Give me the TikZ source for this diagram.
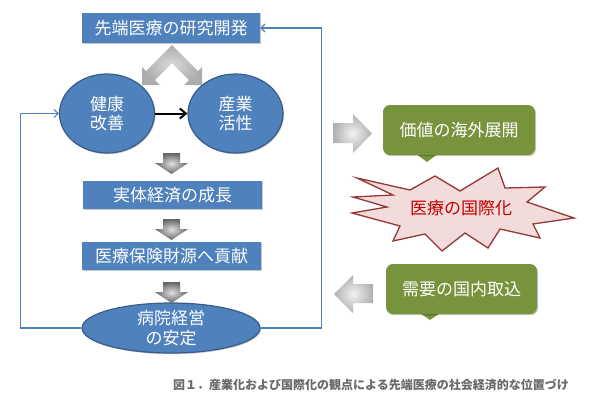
\documentclass[tikz,border=0pt]{standalone}
\usepackage{fontspec}
\setmainfont{Noto Sans CJK JP}
\usetikzlibrary{shapes.geometric,arrows.meta,shadows}
\definecolor{boxblue}{HTML}{4F81BD}
\definecolor{edgeblue}{HTML}{385D8A}
\definecolor{olivegreen}{HTML}{77933C}
\definecolor{starfill}{HTML}{F2DCDB}
\definecolor{staredge}{HTML}{953735}
\definecolor{startext}{HTML}{C00000}
\definecolor{captiongray}{HTML}{6A6A6A}
\tikzset{
  softshadow/.style={drop shadow={shadow xshift=1pt,shadow yshift=-1.2pt,fill=black,opacity=0.22}},
  bluebox/.style={rectangle, fill=boxblue, text=white, inner sep=0pt,
    font=\fontsize{17}{20}\selectfont, softshadow},
  blueell/.style={ellipse, fill=boxblue, draw=edgeblue, line width=1.2pt, text=white,
    inner sep=0pt, align=center, font=\fontsize{17}{19}\selectfont, softshadow},
  greencall/.style={rectangle, rounded corners=7pt, fill=olivegreen, text=white, inner sep=0pt,
    font=\fontsize{17}{20}\selectfont, softshadow},
  loopline/.style={draw=boxblue, line width=1.1pt, -{Straight Barb[length=4pt,width=8pt]}},
  grayarrow/.style={inner color=gray!25, outer color=gray!78!black},
  sidearrow/.style={inner color=gray!10, outer color=gray!62},
}
\begin{document}
\begin{tikzpicture}[x=1pt,y=-1pt]
\useasboundingbox (0,0) rectangle (589,400);
\fill[white] (0,0) rectangle (589,400);

% chevron block arrow
\shade[inner color=gray!30, outer color=gray!65]
  (142,67) -- (146,71) -- (172,45) -- (198,71) -- (202,67) -- (202,85) -- (184,85)
  -- (189,80) -- (172,63) -- (155,80) -- (160,85) -- (142,85) -- cycle;

% nodes (left column)
\node[bluebox, minimum width=178pt, minimum height=30pt] (research) at (171,28) {先端医療の研究開発};
\node[blueell, minimum width=95pt, minimum height=79pt] (health) at (107,113.5) {健康\\改善};
\node[blueell, minimum width=95pt, minimum height=79pt] (industry) at (235.5,113.5) {産業\\活性};
\node[bluebox, minimum width=179pt, minimum height=28pt] (economy) at (172.5,195) {実体経済の成長};
\node[bluebox, minimum width=179pt, minimum height=28pt] (insurance) at (171.5,256) {医療保険財源へ貢献};
\node[blueell, minimum width=178pt, minimum height=50pt,
  label={[text=white, align=center, font=\fontsize{17}{20}\selectfont]center:病院経営\\の安定}] (hospital) at (171,328) {};

% down block arrows
\foreach \t in {153,219,282}{
  \shade[grayarrow] (163,\t) -- (180,\t) -- (180,\t+10) -- (188,\t+10) -- (171.5,\t+21)
    -- (155,\t+10) -- (163,\t+10) -- cycle;
}

% connectors
\draw[line width=2pt, -{Straight Barb[length=6pt,width=10pt]}] (health) -- (industry);
\draw[loopline] (hospital.west) -- ++(-61,0) |- (health.west);
\draw[loopline] (hospital.east) -- ++(61,0) |- (research.east);

% right side
\shade[sidearrow] (333,123) -- (353,123) -- (353,114) -- (372,133.5) -- (353,153)
  -- (353,143) -- (333,143) -- cycle;
\shade[sidearrow] (373,284) -- (353,284) -- (353,275) -- (334,294) -- (353,313)
  -- (353,303) -- (373,303) -- cycle;

\fill[olivegreen] (411,150) -- (427,162) -- (443,150) -- cycle;
\node[greencall, minimum width=152pt, minimum height=50pt] (overseas) at (459,130) {価値の海外展開};
\fill[olivegreen] (414,309) -- (430,320) -- (446,309) -- cycle;
\node[greencall, minimum width=151pt, minimum height=50pt] (domestic) at (461.5,289) {需要の国内取込};

\filldraw[fill=starfill, draw=staredge, line width=1.3pt, line join=miter]
  (357,178) -- (410,190) -- (435,176) -- (460,191) -- (498,168) -- (505,188) -- (545,187)
  -- (527,202) -- (574,218) -- (533,224) -- (540,238) -- (500,229) -- (488,248)
  -- (465,233) -- (442,251) -- (425,234) -- (393,241) -- (400,226) -- (352,213)
  -- (387,207) -- (353,197) -- (393,195) -- cycle;
\node[text=startext, font=\fontsize{17}{20}\selectfont, inner sep=0pt] (intl) at (461,208) {医療の国際化};

\node[text=captiongray, font=\bfseries\fontsize{12}{14}\selectfont, inner sep=0pt] (caption) at (371,385)
  {図１．産業化および国際化の観点による先端医療の社会経済的な位置づけ};
\end{tikzpicture}
\end{document}
